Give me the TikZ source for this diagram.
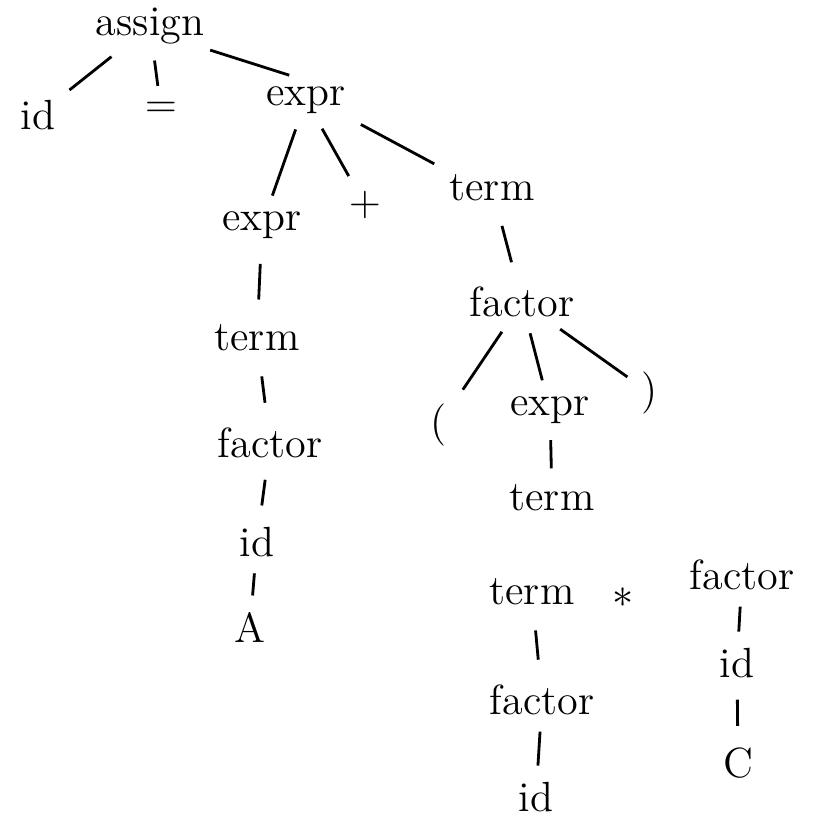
\documentclass[tikz,border=0pt]{standalone}
\usepackage{tikz}
\usepackage{amssymb}
\usepackage{amsmath}

\begin{document}
\begin{tikzpicture} [x = 0.01cm, y = -0.01cm, sym/.style = {black, font=\large, inner sep=1.5pt}, edge/.style = {black, thick, shorten <=3pt, shorten >=3pt}, tick/.style = {edge, shorten <=5.5pt, shorten >=5.5pt}] 
\useasboundingbox (0, 0) rectangle (814, 817);
\node[sym] (assign) at (150, 26){assign};
\node[sym] (idL) at (38, 115){id};
\node[sym] (eq) at (161, 110){$=$};
\node[sym] (exprA) at (306, 100){expr};
\node[sym] (exprB) at (262, 225){expr};
\node[sym] (plus) at (365, 205){$+$};
\node[sym] (termA) at (492, 188){term};
\node[sym] (termB) at (257, 338){term};
\node[sym] (factorA) at (270, 443){factor};
\node[sym] (idA) at (257, 542){id};
\node[sym] (nameA) at (250, 627){A};
\node[sym] (factorB) at (522, 302){factor};
\node[sym] (lpar) at (439, 425){(};
\node[sym] (exprC) at (550, 410){expr};
\node[sym] (rpar) at (650, 393){)};
\node[sym] (termC) at (552, 498){term};
\node[sym] (termD) at (532, 592){term};
\node[sym] (star) at (623, 598){$*$};
\node[sym] (factorC) at (742, 575){factor};
\node[sym] (idB) at (737, 663){id};
\node[sym] (nameC) at (738, 763){C};
\node[sym] (factorD) at (542, 700){factor};
\node[sym] (idC) at (536, 797){id};
\draw[edge] (assign) -- (idL);
\draw[edge] (assign) -- (eq);
\draw[edge, shorten <=0pt, shorten >=5pt] (assign.south east) -- (exprA.north);
\draw[edge] (exprA) -- (exprB);
\draw[edge] (exprA) -- (plus);
\draw[edge] (exprA.south east) -- (termA.north west);
\draw[tick] (exprB) -- (termB);
\draw[tick] (termB) -- (factorA);
\draw[tick, shorten <=4.5pt, shorten >=4.5pt] (factorA) -- (idA);
\draw[edge] (idA) -- (nameA);
\draw[tick] (termA) -- (factorB);
\draw[edge, shorten >=5pt] (factorB) -- (lpar);
\draw[edge] (factorB) -- (exprC);
\draw[edge] (factorB) -- (rpar);
\draw[edge] (exprC) -- (termC);
\draw[tick] (termD) -- (factorD);
\draw[edge] (factorD) -- (idC);
\draw[edge] (factorC) -- (idB);
\draw[tick, shorten <=4.5pt, shorten >=4.5pt] (idB) -- (nameC);
\end{tikzpicture}
\end{document}
